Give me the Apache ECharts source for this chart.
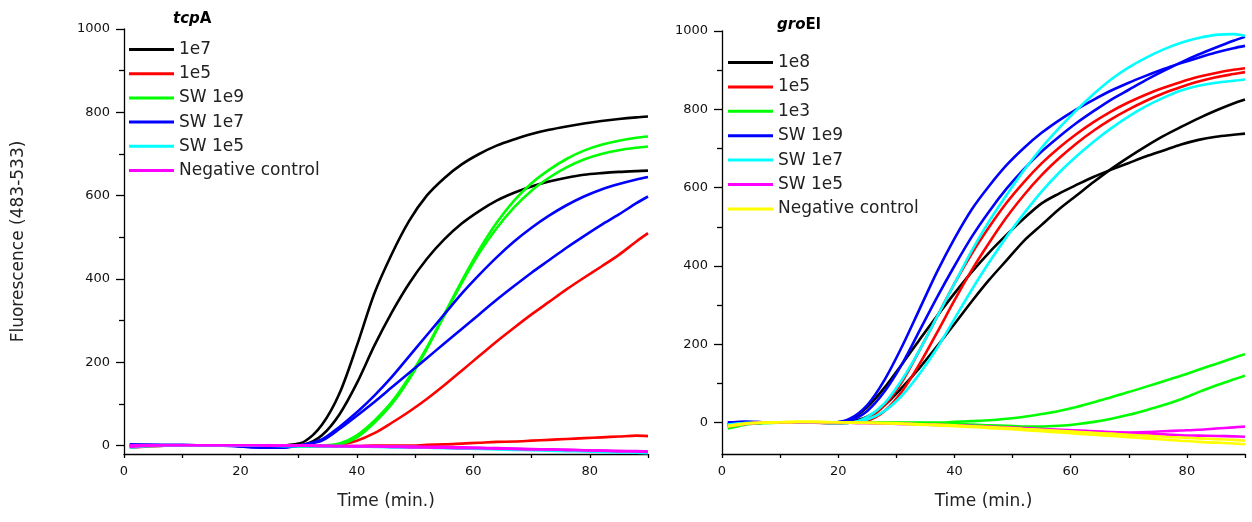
<!DOCTYPE html>
<html>
<head>
<meta charset="utf-8">
<title>tcpA / groEl real-time fluorescence</title>
<script src="https://cdn.jsdelivr.net/npm/echarts@6/dist/echarts.min.js"></script>
<style>
  html, body { margin: 0; padding: 0; background: #ffffff; }
  #chart { width: 1252px; height: 522px; }
</style>
</head>
<body>
<div id="chart"></div>
<script>
// Sampling times (min.) shared by every trace
const TIME = [1,4,7,10,13,16,19,22,25,28,31,34,37,40,43,46,49,52,55,58,61,64,67,70,73,76,79,82,85,88,90];

// Tick positions
const X_LABELS = [0, 20, 40, 60, 80];
const X_TICKS = [0, 10, 20, 30, 40, 50, 60, 70, 80, 90];
const Y_LABEL_TICKS = [0, 200, 400, 600, 800, 1000];
const Y_MINOR_TICKS = [100, 300, 500, 700, 900];

// ---- tcpA panel: two replicate traces per sample ----
const TCPA_NAMES = ['1e7', '1e5', 'SW 1e9', 'SW 1e7', 'SW 1e5', 'Negative control'];
const TCPA_COLORS = ['#000000', '#ff0000', '#00ff00', '#0000ff', '#00ffff', '#ff00ff'];
const tcpA_1e7_a    = [0,0,1,0,0,1,0,0,-1,1,10,50,125,240,365,460,540,600,642,675,700,720,735,748,758,766,773,779,784,788,790];
const tcpA_1e7_b    = [-2,0,0,0,0,0,0,0,-1,0,3,25,75,150,240,320,390,448,495,533,563,588,607,622,634,643,650,654,657,659,660];
const tcpA_1e5_a    = [-5,-2,0,0,0,0,0,0,0,-1,-2,-1,2,12,30,55,82,112,145,180,215,250,283,315,345,375,403,430,458,490,510];
const tcpA_1e5_b    = [-4,-1,0,0,0,0,0,-1,-1,-2,-2,-2,-1,-1,0,0,0,2,3,5,7,9,10,12,14,16,18,20,22,24,23];
const tcpA_SW1e9_a  = [2,1,0,0,0,0,0,-1,-2,-2,-2,0,5,25,60,105,165,235,315,395,470,535,588,630,662,688,708,722,732,739,742];
const tcpA_SW1e9_b  = [0,0,0,0,0,0,0,-1,-1,-2,-2,-1,3,20,55,100,160,232,312,390,462,522,572,612,643,668,687,700,709,715,718];
const tcpA_SW1e7_a  = [3,2,2,2,1,1,0,-3,-4,-3,3,15,45,80,120,165,215,265,315,365,410,452,490,523,552,577,598,615,628,639,645];
const tcpA_SW1e7_b  = [2,2,1,1,1,0,-1,-4,-5,-4,2,12,40,72,105,140,175,210,245,280,315,350,383,415,445,475,503,530,555,582,598];
const tcpA_SW1e5_a  = [-5,-1,0,0,0,0,0,0,0,-1,-1,-2,-2,-2,-3,-4,-4,-5,-6,-7,-8,-9,-10,-11,-12,-13,-14,-15,-16,-17,-18];
const tcpA_SW1e5_b  = [-3,0,0,0,0,0,0,0,0,0,-1,-1,-1,-2,-2,-3,-3,-4,-4,-5,-6,-7,-8,-9,-10,-11,-12,-13,-14,-15,-16];
const tcpA_neg_a    = [-3,0,1,1,1,1,1,1,1,0,0,0,-1,-1,-1,-2,-2,-3,-3,-4,-5,-6,-7,-8,-9,-10,-11,-12,-13,-14,-15];
const tcpA_neg_b    = [1,1,1,1,1,1,1,1,0,0,0,-1,-1,-2,-2,-3,-4,-4,-5,-6,-6,-7,-8,-9,-9,-10,-11,-12,-13,-13,-14];
const TCPA_TRACES = [
  [tcpA_1e7_a, tcpA_1e7_b],
  [tcpA_1e5_a, tcpA_1e5_b],
  [tcpA_SW1e9_a, tcpA_SW1e9_b],
  [tcpA_SW1e7_a, tcpA_SW1e7_b],
  [tcpA_SW1e5_a, tcpA_SW1e5_b],
  [tcpA_neg_a, tcpA_neg_b]
];

// ---- groEl panel ----
const GROEL_NAMES = ['1e8', '1e5', '1e3', 'SW 1e9', 'SW 1e7', 'SW 1e5', 'Negative control'];
const GROEL_COLORS = ['#000000', '#ff0000', '#00ff00', '#0000ff', '#00ffff', '#ff00ff', '#ffff00'];
const groEl_1e8_a   = [-8,-2,0,1,1,0,0,8,40,90,150,212,272,330,385,435,480,522,560,585,607,628,646,663,680,695,710,722,730,735,738];
const groEl_1e8_b   = [-6,-1,0,1,1,0,-1,2,15,45,90,140,195,252,310,365,415,465,505,545,580,615,648,678,706,732,755,777,797,815,825];
const groEl_1e5_a   = [-5,-1,0,0,1,0,-1,0,10,45,105,185,270,355,432,500,562,615,662,702,737,768,795,818,838,855,870,883,893,901,905];
const groEl_1e5_b   = [-4,-1,0,0,0,0,-1,0,5,30,80,150,230,312,390,460,525,582,632,675,713,746,775,800,822,841,857,871,882,890,895];
const groEl_1e3_a   = [-15,-5,-1,0,1,1,0,0,0,0,0,0,0,2,4,6,10,15,22,30,40,52,65,78,92,106,120,135,150,165,175];
const groEl_1e3_b   = [-12,-4,-1,0,0,0,0,0,0,-1,-1,-2,-2,-3,-5,-7,-8,-10,-10,-8,-4,2,10,20,32,45,60,78,95,110,120];
const groEl_SW1e9_a = [0,2,1,0,0,0,0,10,45,110,195,290,385,470,545,605,658,702,740,772,800,825,848,868,886,903,918,932,945,956,962];
const groEl_SW1e9_b = [0,2,1,0,0,0,0,5,30,80,150,235,320,400,475,540,598,648,692,730,765,796,825,850,875,898,920,940,958,975,985];
const groEl_SW1e7_a = [-5,-1,0,1,1,0,-1,0,15,50,110,185,270,355,440,515,582,645,702,752,798,840,877,907,932,953,970,982,990,992,988];
const groEl_SW1e7_b = [-6,-1,0,1,1,0,-1,0,8,30,70,125,190,265,340,410,475,535,590,638,680,718,752,782,808,830,848,860,868,873,876];
const groEl_SW1e5_a = [-10,-3,0,0,1,1,0,0,-1,-2,-3,-4,-5,-7,-8,-10,-12,-14,-16,-18,-20,-22,-24,-25,-24,-22,-20,-18,-15,-12,-10];
const groEl_SW1e5_b = [-9,-3,0,0,1,1,0,0,-1,-2,-3,-4,-6,-7,-9,-11,-13,-15,-17,-19,-21,-23,-25,-27,-29,-30,-32,-33,-34,-35,-36];
const groEl_neg_a   = [-8,-2,0,1,2,2,1,1,0,-1,-2,-4,-5,-7,-9,-11,-13,-16,-18,-21,-23,-26,-28,-31,-33,-36,-38,-40,-42,-44,-46];
const groEl_neg_b   = [-10,-3,0,1,2,2,1,0,-1,-2,-3,-5,-7,-9,-11,-14,-16,-19,-22,-25,-28,-31,-34,-37,-40,-43,-46,-49,-51,-53,-55];
const GROEL_TRACES = [
  [groEl_1e8_a, groEl_1e8_b],
  [groEl_1e5_a, groEl_1e5_b],
  [groEl_1e3_a, groEl_1e3_b],
  [groEl_SW1e9_a, groEl_SW1e9_b],
  [groEl_SW1e7_a, groEl_SW1e7_b],
  [groEl_SW1e5_a, groEl_SW1e5_b],
  [groEl_neg_a, groEl_neg_b]
];

const TICK_FONT = 'DejaVu Sans';
const TEXT_FONT = 'DejaVu Sans';

function buildSeries(names, colors, traces, axisIndex) {
  const out = [];
  names.forEach((name, gi) => {
    traces[gi].forEach(values => {
      out.push({
        type: 'line',
        name: name,
        xAxisIndex: axisIndex,
        yAxisIndex: axisIndex,
        data: TIME.map((t, i) => [t, values[i]]),
        showSymbol: false,
        symbol: 'none',
        smooth: 0.3,
        color: colors[gi],
        lineStyle: { color: colors[gi], width: 2.6 },
        emphasis: { disabled: true },
        animation: false
      });
    });
  });
  return out;
}

const plainNumber = v => String(v);

function timeAxis(gridIndex) {
  return {
    type: 'value', gridIndex: gridIndex, min: 0, max: 90, position: 'bottom',
    name: 'Time (min.)',
    nameLocation: 'middle', nameGap: 39,
    nameTextStyle: { fontFamily: TEXT_FONT, fontSize: 17, color: '#222' },
    axisLine: { show: true, onZero: false, lineStyle: { color: '#000', width: 1.3 } },
    axisTick: { show: true, length: 4, customValues: X_TICKS, lineStyle: { color: '#000', width: 1.3 } },
    axisLabel: { customValues: X_LABELS, formatter: plainNumber, fontFamily: TICK_FONT, fontSize: 13, color: '#111', margin: 11 },
    splitLine: { show: false }
  };
}
function mainY(gridIndex, min, withName) {
  return {
    type: 'value', gridIndex: gridIndex, min: min, max: 1000, position: 'left',
    name: withName ? 'Fluorescence (483-533)' : '',
    nameLocation: 'middle', nameGap: 97,
    nameTextStyle: { fontFamily: TEXT_FONT, fontSize: 17, color: '#222' },
    axisLine: { show: true, onZero: false, lineStyle: { color: '#000', width: 1.3 } },
    axisTick: { show: true, length: 8, customValues: Y_LABEL_TICKS, lineStyle: { color: '#000', width: 1.3 } },
    axisLabel: { customValues: Y_LABEL_TICKS, formatter: plainNumber, fontFamily: TICK_FONT, fontSize: 13, color: '#111', margin: 14 },
    splitLine: { show: false }
  };
}
// Shorter ticks at the odd hundreds, drawn by an overlaid axis without line or labels
function minorY(gridIndex, min) {
  return {
    type: 'value', gridIndex: gridIndex, min: min, max: 1000, position: 'left',
    axisLine: { show: false, onZero: false },
    axisTick: { show: true, length: 5, customValues: Y_MINOR_TICKS, lineStyle: { color: '#000', width: 1.3 } },
    axisLabel: { show: false },
    splitLine: { show: false }
  };
}

function legendFor(names, colors, left, top, gap) {
  return {
    orient: 'vertical', left: left, top: top, padding: 0,
    icon: 'rect', itemWidth: 45, itemHeight: 3, itemGap: gap,
    selectedMode: false,
    textStyle: { fontFamily: TEXT_FONT, fontSize: 17, color: '#222' },
    data: names.map((n, i) => ({ name: n, itemStyle: { color: colors[i] } }))
  };
}

const chart = echarts.init(document.getElementById('chart'), null, { renderer: 'canvas' });
chart.setOption({
  backgroundColor: '#ffffff',
  animation: false,
  title: [
    {
      text: '{i|tcp}{b|A}', left: 168, top: 7,
      textStyle: { rich: {
        i: { fontFamily: TEXT_FONT, fontSize: 15, fontStyle: 'italic', fontWeight: 'bold', color: '#000' },
        b: { fontFamily: TEXT_FONT, fontSize: 15, fontWeight: 'bold', color: '#000' }
      } }
    },
    {
      text: '{i|gro}{b|El}', left: 772, top: 13,
      textStyle: { rich: {
        i: { fontFamily: TEXT_FONT, fontSize: 15, fontStyle: 'italic', fontWeight: 'bold', color: '#000' },
        b: { fontFamily: TEXT_FONT, fontSize: 15, fontWeight: 'bold', color: '#000' }
      } }
    }
  ],
  legend: [
    legendFor(TCPA_NAMES, TCPA_COLORS, 129, 41, 7.2),
    legendFor(GROEL_NAMES, GROEL_COLORS, 728, 54, 7.4)
  ],
  grid: [
    { left: 124, top: 29, width: 524, height: 425 },
    { left: 722, top: 31, width: 523, height: 423 }
  ],
  xAxis: [timeAxis(0), timeAxis(1)],
  yAxis: [mainY(0, -20, true), minorY(0, -20), mainY(1, -80, false), minorY(1, -80)],
  series: [].concat(
    buildSeries(TCPA_NAMES, TCPA_COLORS, TCPA_TRACES, 0),
    buildSeries(GROEL_NAMES, GROEL_COLORS, GROEL_TRACES, 1)
  ).map(s => s.xAxisIndex === 1
    ? Object.assign(s, { xAxisIndex: 1, yAxisIndex: 2 })
    : s)
});
</script>
</body>
</html>
